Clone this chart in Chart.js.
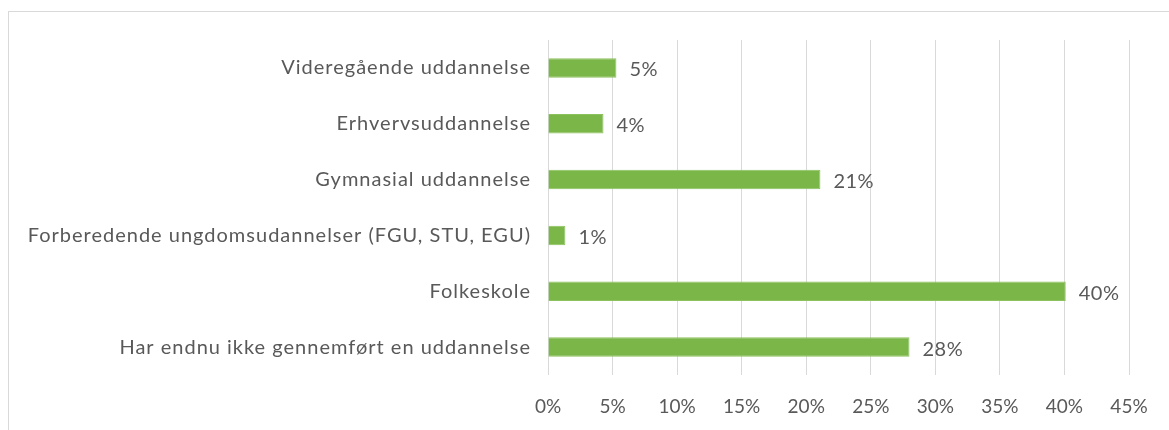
<!DOCTYPE html>
<html>
<head>
<meta charset="utf-8">
<script src="https://cdn.jsdelivr.net/npm/chart.js@4/dist/chart.umd.min.js"></script>
<style>
  html, body { margin: 0; padding: 0; background: #fff; overflow: hidden; }
  #frame { position: absolute; left: 8px; top: 11px; width: 1300px; height: 600px; border: 1px solid #d9d9d9; }
  #wrap { position: absolute; left: 0; top: 0; width: 1169px; height: 430px; }
</style>
</head>
<body>
<div id="frame"></div>
<div id="wrap"><canvas id="c" width="1169" height="430"></canvas></div>
<script>
const categories = [
  "Videregående uddannelse",
  "Erhvervsuddannelse",
  "Gymnasial uddannelse",
  "Forberedende ungdomsudannelser (FGU, STU, EGU)",
  "Folkeskole",
  "Har endnu ikke gennemført en uddannelse"
];
const values = [5.3, 4.3, 21.1, 1.35, 40.1, 28.0];
const valueLabels = ["5%", "4%", "21%", "1%", "40%", "28%"];
const tickValues = [0, 5, 10, 15, 20, 25, 30, 35, 40, 45];

const FONT = "Lato, 'Open Sans', sans-serif";
const TEXT = "#595959";

const textPlugin = {
  id: 'textPlugin',
  afterDraw(chart) {
    const ctx = chart.ctx;
    const meta = chart.getDatasetMeta(0);
    const yScale = chart.scales.y;
    ctx.save();
    ctx.fillStyle = TEXT;
    ctx.textBaseline = 'middle';
    // category labels (y axis)
    ctx.font = "20px " + FONT;
    ctx.letterSpacing = "1px";
    ctx.textAlign = 'right';
    categories.forEach((label, i) => {
      ctx.fillText(label, chart.chartArea.left - 17, yScale.getPixelForTick(i));
    });
    // value labels
    ctx.font = "20px " + FONT;
    ctx.letterSpacing = "0.5px";
    ctx.textAlign = 'left';
    meta.data.forEach((bar, i) => {
      ctx.fillText(valueLabels[i], bar.x + 13, bar.y + 2);
    });
    ctx.restore();
  }
};

new Chart(document.getElementById('c'), {
  type: 'bar',
  data: {
    labels: categories,
    datasets: [{
      data: values,
      backgroundColor: '#7AB648',
      borderColor: '#8CC25E',
      borderWidth: 1,
      categoryPercentage: 1,
      barPercentage: 0.35
    }]
  },
  options: {
    indexAxis: 'y',
    responsive: false,
    animation: false,
    events: [],
    layout: { padding: { top: 40, right: 40, left: 0, bottom: 0 } },
    plugins: { legend: { display: false }, tooltip: { enabled: false } },
    scales: {
      x: {
        min: 0, max: 45,
        afterBuildTicks(scale) { scale.ticks = tickValues.map(v => ({ value: v })); },
        afterFit(scale) { scale.height = 55; },
        grid: { color: '#d9d9d9', lineWidth: 1, drawTicks: false },
        border: { display: false },
        ticks: {
          padding: 20,
          color: TEXT,
          font: { family: FONT, size: 19 },
          callback: (v) => v + '%'
        }
      },
      y: {
        afterFit(scale) { scale.width = 548; },
        grid: { display: false, drawTicks: false },
        border: { display: false },
        ticks: { display: false }
      }
    }
  },
  plugins: [textPlugin]
});
</script>
</body>
</html>
